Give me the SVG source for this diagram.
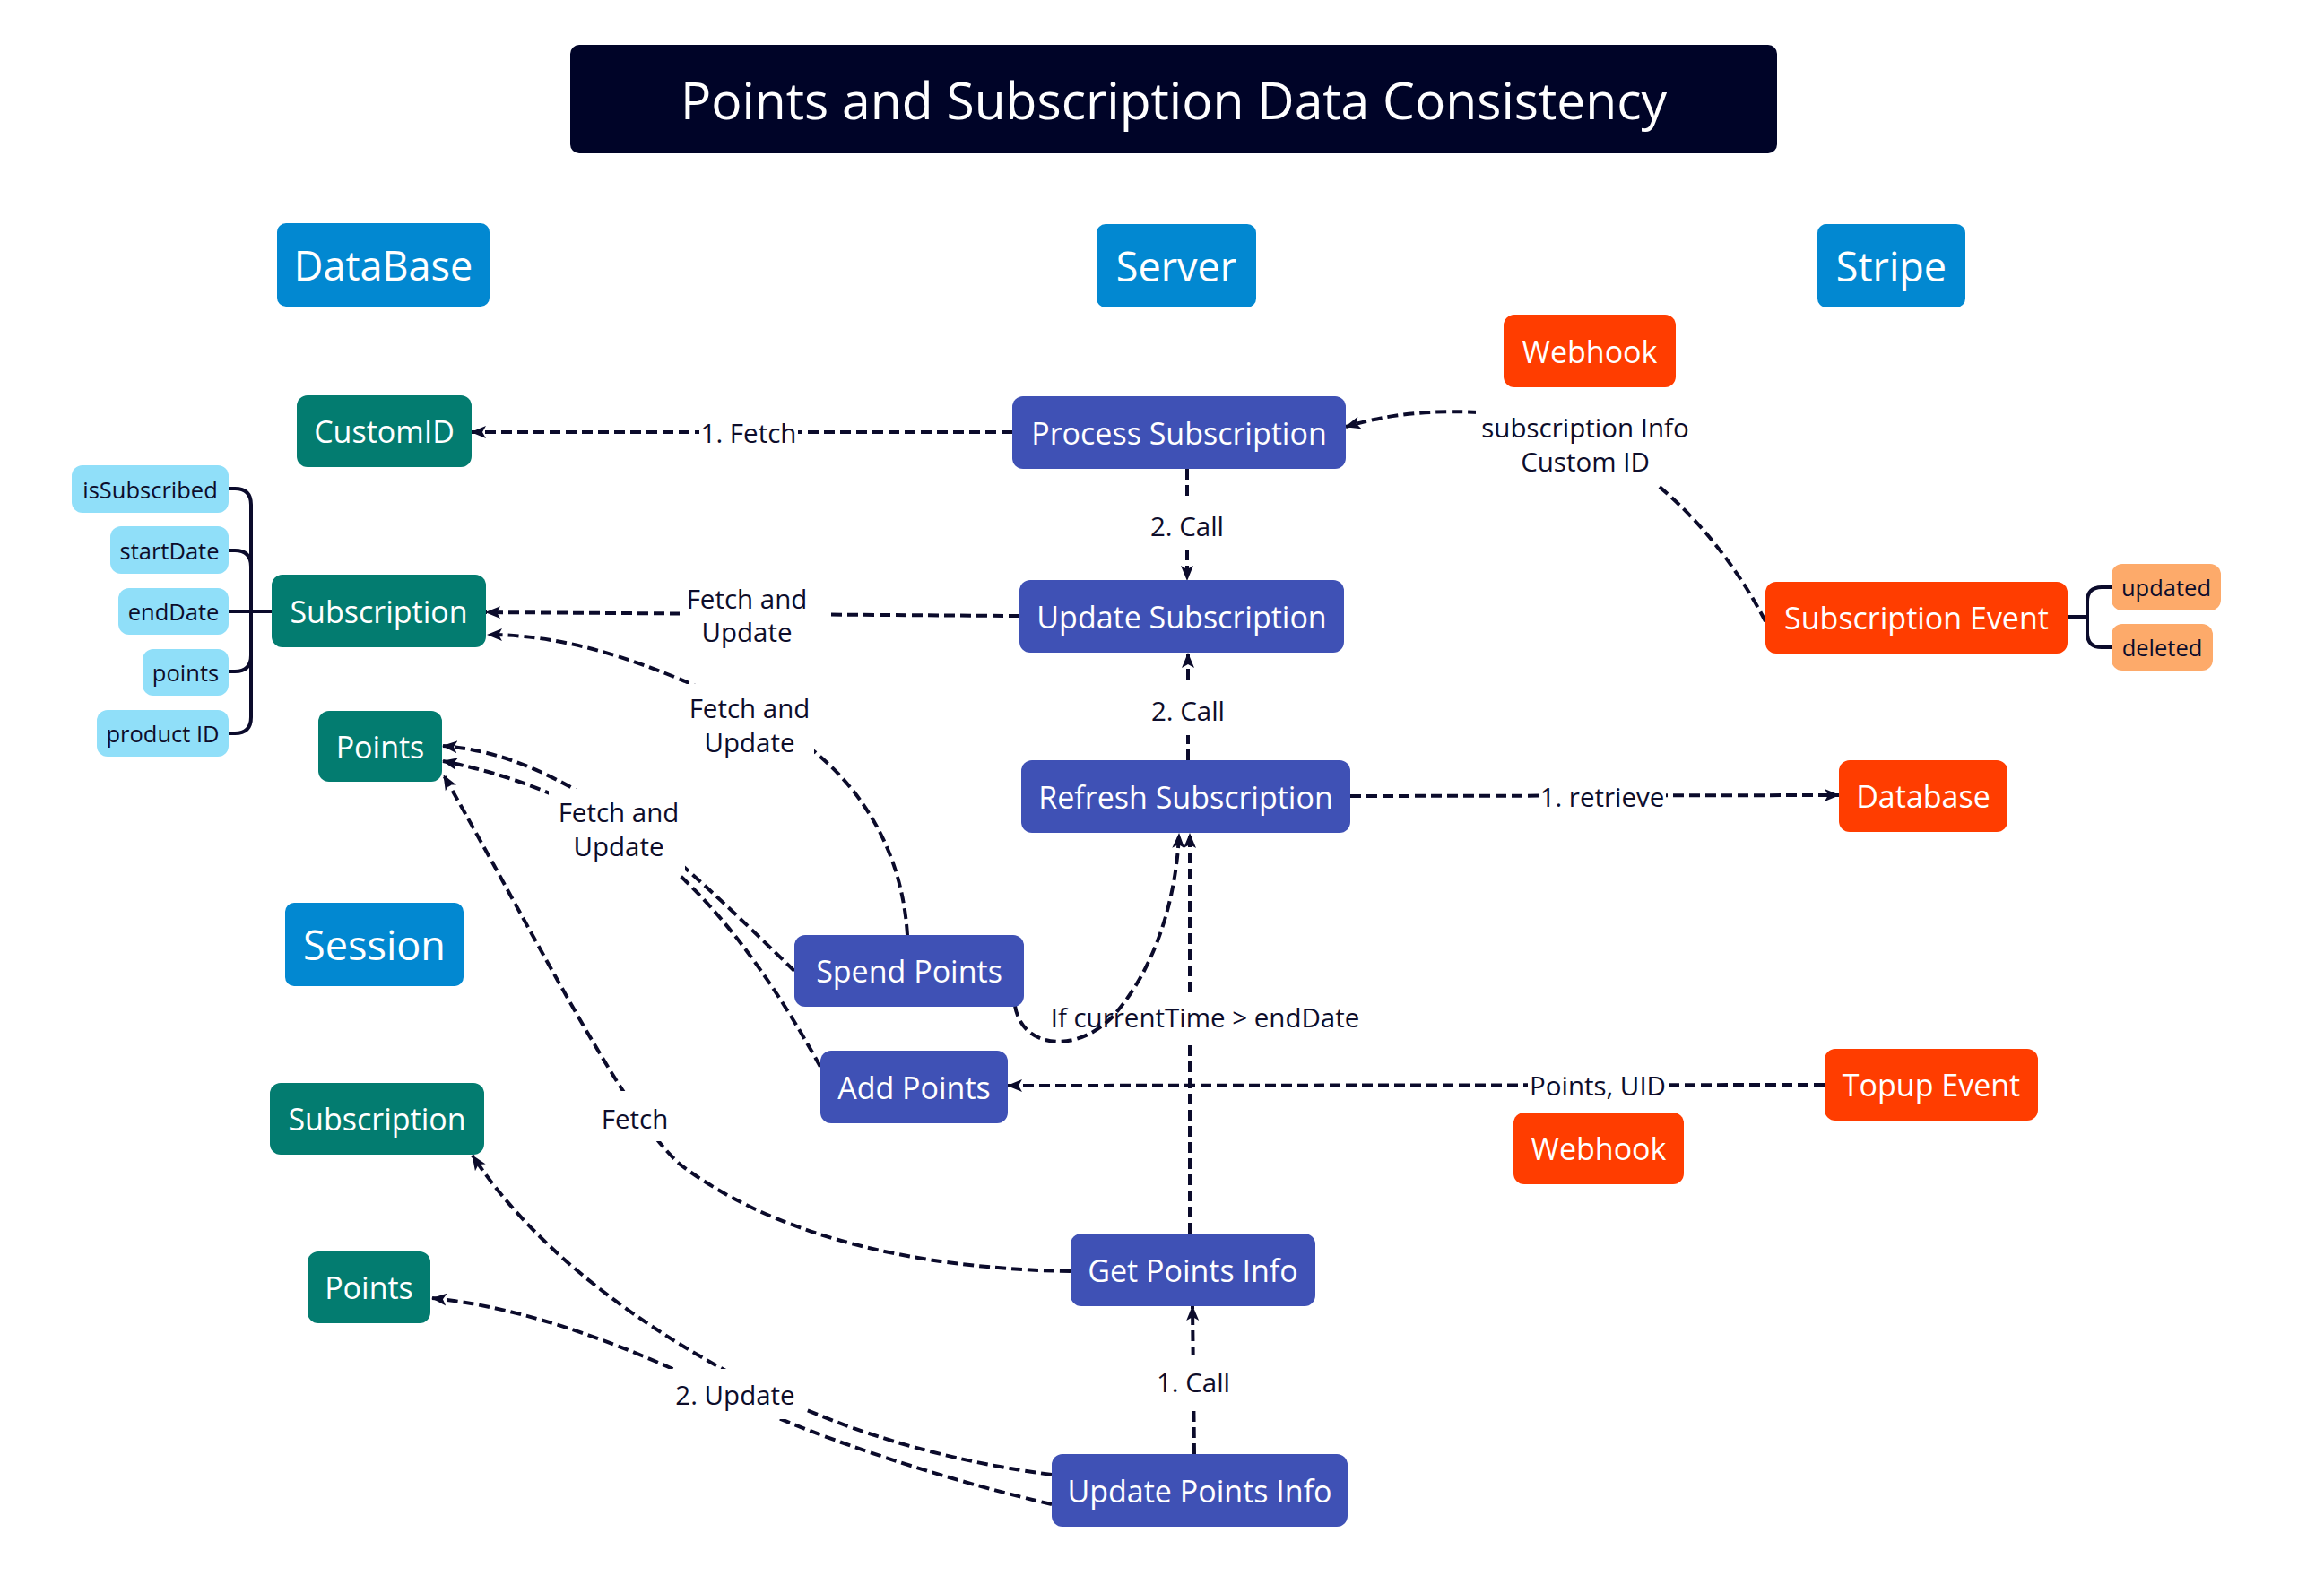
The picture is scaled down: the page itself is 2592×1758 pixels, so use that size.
<svg xmlns="http://www.w3.org/2000/svg" width="2592" height="1758" viewBox="0 0 2592 1758">
<defs>
<style>
text{font-family:"Open Sans","Noto Sans","Liberation Sans",sans-serif;text-anchor:middle;dominant-baseline:central}
.hdr{fill:#0288D1}
.db{fill:#037C70}
.srv{fill:#3F51B5}
.str{fill:#FF3D00}
.attr{fill:#90DFF9}
.evt{fill:#FDAA6A}
.wt{fill:#FFFFFF}
.nt{font-size:34px}
.ht{font-size:45px}
.at{font-size:25.5px;fill:#0D0D2B}
.lb{font-size:29.5px;fill:#0D0D2B}
.bg{fill:#FFFFFF}
.cn{fill:none;stroke:#0B0B2B;stroke-width:4;stroke-dasharray:12 6}
.br{fill:none;stroke:#0B0B2B;stroke-width:4}
</style>
<marker id="arr" markerUnits="userSpaceOnUse" markerWidth="18" markerHeight="16" refX="16" refY="8" orient="auto" viewBox="0 0 18 16">
<path d="M0,1 L17,8 L0,15 L4,8 Z" fill="#0B0B2B"/>
</marker>
</defs>
<rect x="0" y="0" width="2592" height="1758" fill="#FFFFFF"/>

<g id="title">
<rect x="636" y="50" width="1346" height="121" rx="10" fill="#000428"/>
<text x="1309" y="111" class="wt" style="font-size:57px">Points and Subscription Data Consistency</text>
</g>

<g id="headers">
<g id="h-database"><rect class="hdr" x="309" y="249" width="237" height="93" rx="10"/><text class="wt ht" x="427.5" y="295.5">DataBase</text></g>
<g id="h-server"><rect class="hdr" x="1223" y="250" width="178" height="93" rx="10"/><text class="wt ht" x="1312" y="296.5">Server</text></g>
<g id="h-stripe"><rect class="hdr" x="2027" y="250" width="165" height="93" rx="10"/><text class="wt ht" x="2109.5" y="296.5">Stripe</text></g>
<g id="h-session"><rect class="hdr" x="318" y="1007" width="199" height="93" rx="10"/><text class="wt ht" x="417.5" y="1053.5">Session</text></g>
</g>

<g id="connectors">
<path class="br" d="M255,545 L262,545 Q280,545 280,563 L280,800 Q280,818 262,818 L255,818"/>
<path class="br" d="M255,614 L262,614 Q280,614 280,632"/>
<path class="br" d="M255,749 L262,749 Q280,749 280,731"/>
<path class="br" d="M255,682 L303,682"/>
<path class="br" d="M2306,688 L2328,688 M2355,655 L2344,655 Q2328,655 2328,671 L2328,706 Q2328,722 2344,722 L2355,722"/>

<path class="cn" d="M1129,482 L526,482" marker-end="url(#arr)"/>
<path class="cn" d="M1324,523 L1324,647" marker-end="url(#arr)"/>
<path class="cn" d="M1137,687 L542,683" marker-end="url(#arr)"/>
<path class="cn" d="M1325,848 L1325,729" marker-end="url(#arr)"/>
<path class="cn" d="M1506,888 L2051,887" marker-end="url(#arr)"/>
<path class="cn" d="M1969,693 C1910,580 1800,468 1650,460 C1590,457 1545,463 1501,476" marker-end="url(#arr)"/>
<path class="cn" d="M1012,1043 C1005,930 940,840 830,790 C730,742 640,708 544,708" marker-end="url(#arr)"/>
<path class="cn" d="M886,1083 C800,1000 720,920 640,880 C590,852 545,836 494,832" marker-end="url(#arr)"/>
<path class="cn" d="M915,1190 C860,1090 790,990 700,930 C630,886 560,862 494,849" marker-end="url(#arr)"/>
<path class="cn" d="M1194,1418 C1010,1415 860,1375 760,1300 C700,1250 600,1050 495,865" marker-end="url(#arr)"/>
<path class="cn" d="M1327,1376 L1327,1163 M1327,1107 L1327,930" marker-end="url(#arr)"/>
<path class="cn" d="M2035,1210 L1124,1211" marker-end="url(#arr)"/>
<path class="cn" d="M1332,1622 L1330,1457" marker-end="url(#arr)"/>
<path class="cn" d="M1173,1645 C1020,1625 900,1580 806,1527 C720,1480 600,1400 527,1289" marker-end="url(#arr)"/>
<path class="cn" d="M1173,1678 C1050,1650 900,1600 820,1560 C720,1510 600,1460 482,1448" marker-end="url(#arr)"/>
</g>

<g id="labels">
<rect class="bg" x="780" y="462" width="110" height="40"/><text class="lb" x="835" y="482">1. Fetch</text>
<rect class="bg" x="1284" y="558" width="82" height="55"/><text class="lb" x="1324" y="586">2. Call</text>
<rect class="bg" x="758" y="648" width="164" height="75"/><text class="lb"><tspan x="833" y="667">Fetch and</tspan><tspan x="833" y="704">Update</tspan></text>
<rect class="bg" x="1284" y="760" width="82" height="60"/><text class="lb" x="1325" y="792">2. Call</text>
<rect class="bg" x="1716" y="868" width="142" height="40"/><text class="lb" x="1787" y="888">1. retrieve</text>
<rect class="bg" x="1646" y="455" width="244" height="87"/><text class="lb"><tspan x="1768" y="476">subscription Info</tspan><tspan x="1768" y="514">Custom ID</tspan></text>
<rect class="bg" x="760" y="763" width="148" height="90"/><text class="lb"><tspan x="836" y="789">Fetch and</tspan><tspan x="836" y="827">Update</tspan></text>
<rect class="bg" x="612" y="880" width="152" height="96"/><text class="lb"><tspan x="690" y="905">Fetch and</tspan><tspan x="690" y="943">Update</tspan></text>
<rect class="bg" x="665" y="1217" width="86" height="56"/><text class="lb" x="708" y="1247">Fetch</text>
<rect class="bg" x="1704" y="1190" width="156" height="40"/><text class="lb" x="1782" y="1210">Points, UID</text>
<rect class="bg" x="1288" y="1512" width="86" height="60"/><text class="lb" x="1331" y="1541">1. Call</text>
<rect class="bg" x="744" y="1527" width="156" height="56"/><text class="lb" x="820" y="1555">2. Update</text>
<path class="cn" d="M1132,1122 C1140,1170 1200,1175 1240,1135 C1290,1080 1312,1000 1315,930" marker-end="url(#arr)"/>
<text class="lb" x="1344" y="1134">If currentTime &gt; endDate</text>
</g>

<g id="n-webhook1"><rect class="str" x="1677" y="351" width="192" height="81" rx="12"/><text class="wt nt" x="1773" y="391.5">Webhook</text></g>
<g id="n-customid"><rect class="db" x="331" y="441" width="195" height="80" rx="12"/><text class="wt nt" x="428.5" y="481">CustomID</text></g>
<g id="n-process-subscription"><rect class="srv" x="1129" y="442" width="372" height="81" rx="12"/><text class="wt nt" x="1315" y="482.5">Process Subscription</text></g>
<g id="n-subscription-db"><rect class="db" x="303" y="641" width="239" height="81" rx="12"/><text class="wt nt" x="422.5" y="681.5">Subscription</text></g>
<g id="n-update-subscription"><rect class="srv" x="1137" y="647" width="362" height="81" rx="12"/><text class="wt nt" x="1318" y="687.5">Update Subscription</text></g>
<g id="n-subscription-event"><rect class="str" x="1969" y="649" width="337" height="80" rx="12"/><text class="wt nt" x="2137.5" y="689">Subscription Event</text></g>
<g id="n-updated"><rect class="evt" x="2355" y="629" width="122" height="52" rx="12"/><text class="at" x="2416" y="655">updated</text></g>
<g id="n-deleted"><rect class="evt" x="2355" y="696" width="113" height="52" rx="12"/><text class="at" x="2411.5" y="722">deleted</text></g>
<g id="n-points-db"><rect class="db" x="355" y="793" width="138" height="79" rx="12"/><text class="wt nt" x="424" y="832.5">Points</text></g>
<g id="n-refresh-subscription"><rect class="srv" x="1139" y="848" width="367" height="81" rx="12"/><text class="wt nt" x="1322.5" y="888.5">Refresh Subscription</text></g>
<g id="n-database"><rect class="str" x="2051" y="848" width="188" height="80" rx="12"/><text class="wt nt" x="2145" y="888">Database</text></g>
<g id="n-spend-points"><rect class="srv" x="886" y="1043" width="256" height="80" rx="12"/><text class="wt nt" x="1014" y="1083">Spend Points</text></g>
<g id="n-add-points"><rect class="srv" x="915" y="1172" width="209" height="81" rx="12"/><text class="wt nt" x="1019.5" y="1212.5">Add Points</text></g>
<g id="n-topup-event"><rect class="str" x="2035" y="1170" width="238" height="80" rx="12"/><text class="wt nt" x="2154" y="1210">Topup Event</text></g>
<g id="n-webhook2"><rect class="str" x="1688" y="1241" width="190" height="80" rx="12"/><text class="wt nt" x="1783" y="1281">Webhook</text></g>
<g id="n-subscription-session"><rect class="db" x="301" y="1208" width="239" height="80" rx="12"/><text class="wt nt" x="420.5" y="1248">Subscription</text></g>
<g id="n-points-session"><rect class="db" x="343" y="1396" width="137" height="80" rx="12"/><text class="wt nt" x="411.5" y="1436">Points</text></g>
<g id="n-get-points-info"><rect class="srv" x="1194" y="1376" width="273" height="81" rx="12"/><text class="wt nt" x="1330.5" y="1416.5">Get Points Info</text></g>
<g id="n-update-points-info"><rect class="srv" x="1173" y="1622" width="330" height="81" rx="12"/><text class="wt nt" x="1338" y="1662.5">Update Points Info</text></g>

<g id="n-issubscribed"><rect class="attr" x="80" y="519" width="175" height="53" rx="12"/><text class="at" x="167.5" y="545.5">isSubscribed</text></g>
<g id="n-startdate"><rect class="attr" x="123" y="587" width="132" height="53" rx="12"/><text class="at" x="189" y="613.5">startDate</text></g>
<g id="n-enddate"><rect class="attr" x="132" y="656" width="123" height="52" rx="12"/><text class="at" x="193.5" y="682">endDate</text></g>
<g id="n-points-attr"><rect class="attr" x="159" y="724" width="96" height="52" rx="12"/><text class="at" x="207" y="750">points</text></g>
<g id="n-productid"><rect class="attr" x="108" y="792" width="147" height="52" rx="12"/><text class="at" x="181.5" y="818">product ID</text></g>
</svg>
